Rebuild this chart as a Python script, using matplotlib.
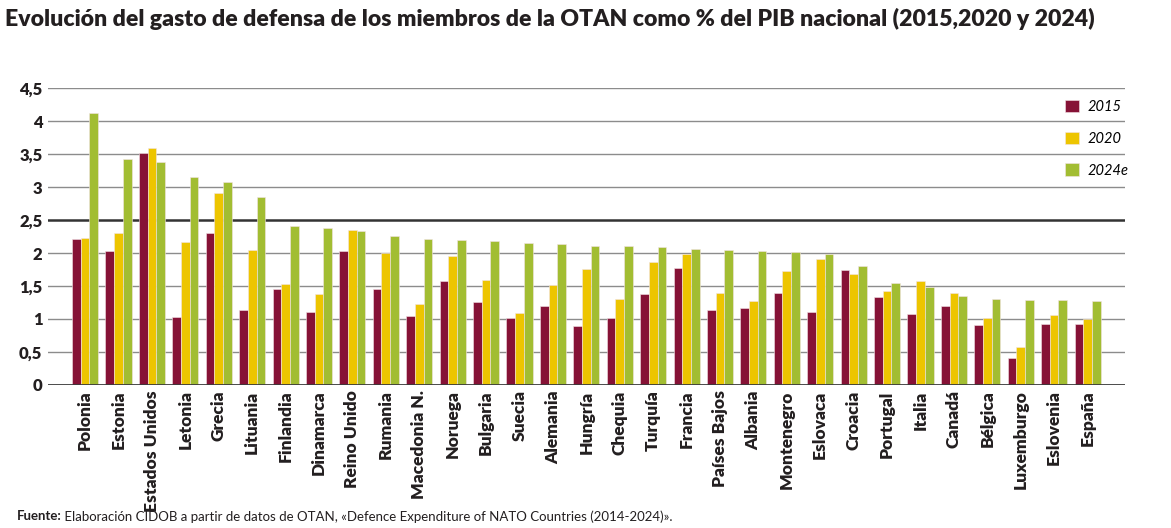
import numpy as np
import matplotlib.pyplot as plt

plt.rcParams['font.family'] = ['Lato', 'DejaVu Sans']

paises = ['Polonia', 'Estonia', 'Estados Unidos', 'Letonia', 'Grecia', 'Lituania',
          'Finlandia', 'Dinamarca', 'Reino Unido', 'Rumania', 'Macedonia N.', 'Noruega',
          'Bulgaria', 'Suecia', 'Alemania', 'Hungría', 'Chequia', 'Turquía', 'Francia',
          'Países Bajos', 'Albania', 'Montenegro', 'Eslovaca', 'Croacia', 'Portugal',
          'Italia', 'Canadá', 'Bélgica', 'Luxemburgo', 'Eslovenia', 'España']
g2015 = [2.21, 2.03, 3.51, 1.03, 2.31, 1.13, 1.45, 1.11, 2.03, 1.45, 1.04, 1.58,
         1.25, 1.01, 1.19, 0.90, 1.02, 1.38, 1.78, 1.13, 1.16, 1.40, 1.11, 1.75,
         1.33, 1.07, 1.20, 0.91, 0.41, 0.93, 0.92]
g2020 = [2.23, 2.30, 3.59, 2.16, 2.91, 2.05, 1.53, 1.38, 2.35, 2.00, 1.23, 1.96,
         1.59, 1.09, 1.51, 1.76, 1.30, 1.87, 1.99, 1.40, 1.28, 1.72, 1.91, 1.68,
         1.42, 1.58, 1.40, 1.01, 0.57, 1.06, 1.00]
g2024 = [4.12, 3.43, 3.38, 3.15, 3.08, 2.85, 2.41, 2.38, 2.33, 2.26, 2.22, 2.20,
         2.18, 2.15, 2.13, 2.11, 2.10, 2.09, 2.06, 2.05, 2.03, 2.01, 1.98, 1.80,
         1.55, 1.49, 1.35, 1.30, 1.29, 1.29, 1.28]
series = ['2015', '2020', '2024e']
colores = ['#861236', '#EDC500', '#A2BD32']

fig = plt.figure(figsize=(11.71, 5.28), dpi=100)
ax = fig.add_axes([0.041, 0.271, 0.920, 0.562])

x = np.arange(len(paises))
w = 0.26
for i, (vals, lab, c) in enumerate(zip([g2015, g2020, g2024], series, colores)):
    ax.bar(x + (i - 1) * w, vals, width=w, color=c, label=lab,
           edgecolor='#f3e3e6', linewidth=0.4, zorder=3)

ax.set_xlim(-1.11, len(paises) - 1 + 1.13)
ax.set_ylim(0, 4.5)
yt = np.arange(0, 4.51, 0.5)
ax.set_yticks(yt)
ax.set_yticklabels([('%g' % v).replace('.', ',') for v in yt],
                   fontsize=12, fontweight='heavy', color='#231f20')
for v in yt[1:]:
    if v == 2.5:
        ax.axhline(v, color='#333333', linewidth=1.8, zorder=1)
    else:
        ax.axhline(v, color='#8c8c8c', linewidth=1.0, zorder=1)
ax.axhline(0, color='#3a3a3a', linewidth=2, zorder=4)

ax.set_xticks(x)
ax.set_xticklabels(paises, rotation=90, fontsize=12.5, fontweight='heavy', color='#231f20')
ax.tick_params(axis='both', length=0, pad=4)
for s in ax.spines.values():
    s.set_visible(False)

leg = ax.legend(loc='upper right', bbox_to_anchor=(1.015, 1.005), frameon=False,
                prop={'style': 'italic', 'size': 10.5}, handlelength=0.95,
                handleheight=0.95, labelspacing=1.2, handletextpad=0.6)

fig.text(0.004, 0.965, 'Evolución del gasto de defensa de los miembros de la OTAN como % del PIB nacional (2015,2020 y 2024)',
         fontsize=16.6, fontweight='heavy', color='#231f20', va='center')
t = fig.text(0.014, 0.022, 'Fuente:', fontsize=9.5, fontweight='bold', color='#231f20', va='center')
ax.annotate(' Elaboración CIDOB a partir de datos de OTAN, «Defence Expenditure of NATO Countries (2014-2024)».',
            xy=(1, 0.5), xycoords=t, va='center', fontsize=9.5, color='#231f20')

fig.savefig('out.png', dpi=100)
